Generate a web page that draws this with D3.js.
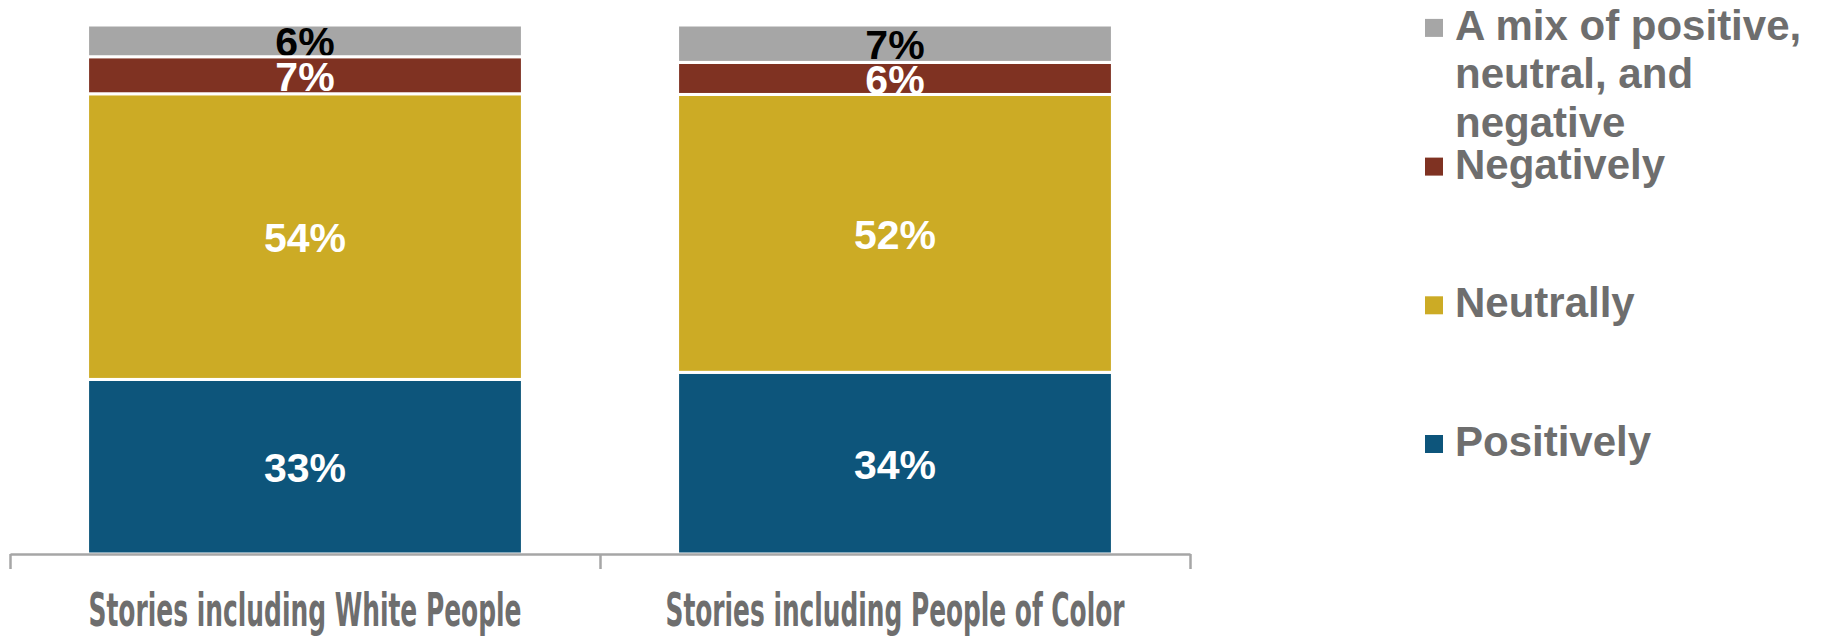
<!DOCTYPE html>
<html>
<head>
<meta charset="utf-8">
<script src="https://cdn.jsdelivr.net/npm/d3@7"></script>
<style>
  body { margin: 0; background: #fff; }
  .axis path, .axis line { stroke: #a6a6a6; stroke-width: 2.5; }
</style>
</head>
<body>
<svg class="chart" width="1824" height="636"></svg>
<script>

var categories = ["Stories including White People", "Stories including People of Color"];
var seriesKeys = ["positive", "neutral", "negative", "mix"];
var seriesLabels = [["Positively"], ["Neutrally"], ["Negatively"], ["A mix of positive,", "neutral, and", "negative"]];
var positive = [33, 34];
var neutral = [54, 52];
var negative = [7, 6];
var mix = [6, 7];
var colors = ["#0d557b", "#ccab25", "#7f3222", "#a6a6a6"];
var labelColors = ["#fff", "#fff", "#fff", "#000"];

var svg = d3.select("svg.chart");

var margin = {left: 10, right: 1190, top: 25, bottom: 554};

var data = categories.map(function(c, i) {
  return {cat: c, positive: positive[i], neutral: neutral[i], negative: negative[i], mix: mix[i]};
});

// 100% stacked, each bar scaled to its own total
var stack = d3.stack().keys(seriesKeys).offset(d3.stackOffsetExpand);
var series = stack(data);

var x = d3.scaleBand()
    .domain(categories)
    .range([margin.left, margin.right])
    .paddingInner(0.263)
    .paddingOuter(0.1315);

var xEdge = d3.scaleLinear().domain([0, categories.length]).range([margin.left, margin.right]);

var y = d3.scaleLinear().domain([0, 1]).range([margin.bottom, margin.top]);

var layer = svg.selectAll(".layer")
  .data(series)
  .enter().append("g")
    .attr("class", "layer")
    .attr("fill", function(d, i) { return colors[i]; });

layer.selectAll("rect")
  .data(function(d) { return d; })
  .enter().append("rect")
    .attr("x", function(d) { return x(d.data.cat); })
    .attr("y", function(d) { return y(d[1]); })
    .attr("width", x.bandwidth())
    .attr("height", function(d) { return y(d[0]) - y(d[1]); })
    .attr("stroke", "#fff")
    .attr("stroke-width", 3);

// clip each value label to its own segment
var defs = svg.append("defs");
series.forEach(function(s, si) {
  s.forEach(function(d, ci) {
    defs.append("clipPath")
      .attr("id", "clip-" + si + "-" + ci)
      .append("rect")
        .attr("x", x(d.data.cat))
        .attr("y", y(d[1]) + 1.5)
        .attr("width", x.bandwidth())
        .attr("height", Math.max(0, y(d[0]) - y(d[1]) - 3));
  });
});

// value labels
series.forEach(function(s, si) {
  svg.append("g").selectAll("text")
    .data(s)
    .enter().append("text")
      .attr("clip-path", function(d, ci) { return "url(#clip-" + si + "-" + ci + ")"; })
      .attr("x", function(d) { return x(d.data.cat) + x.bandwidth() / 2; })
      .attr("y", function(d) { return (y(d[0]) + y(d[1])) / 2; })
      .attr("dy", "0.38em")
      .attr("text-anchor", "middle")
      .style("font", "bold 41px 'Liberation Sans', Arial, sans-serif")
      .style("fill", labelColors[si])
      .text(function(d) { return d.data[s.key] + "%"; });
});

// axis with ticks at category boundaries
svg.append("g")
  .attr("class", "axis")
  .attr("transform", "translate(0," + margin.bottom + ")")
  .call(d3.axisBottom(xEdge).tickValues(d3.range(categories.length + 1)).tickSizeInner(15).tickSizeOuter(0).tickFormat(""));

svg.append("g").selectAll("text")
  .data(categories)
  .enter().append("text")
    .attr("x", function(d) { return x(d) + x.bandwidth() / 2; })
    .attr("y", 626)
    .attr("text-anchor", "middle")
    .attr("textLength", function(d, i) { return i === 0 ? 433 : 459; })
    .attr("lengthAdjust", "spacingAndGlyphs")
    .style("font", "bold 46px 'Liberation Sans Narrow', 'DejaVu Sans Condensed', sans-serif")
    .style("fill", "#6e6e6e")
    .text(function(d) { return d; });

// legend
var legend = svg.append("g").selectAll(".legend")
  .data(seriesLabels)
  .enter().append("g")
    .attr("class", "legend")
    .attr("transform", function(d, i) { return "translate(1425," + (444 - i * 138.7) + ")"; });

legend.append("rect")
  .attr("x", 0)
  .attr("y", -9)
  .attr("width", 18)
  .attr("height", 18)
  .attr("fill", function(d, i) { return colors[i]; });

legend.append("text")
  .style("font", "bold 42px 'Liberation Sans', Arial, sans-serif")
  .style("fill", "#6e6e6e")
  .selectAll("tspan")
  .data(function(d) { return d; })
  .enter().append("tspan")
    .attr("x", 30)
    .attr("y", function(d, j) { return 12 + j * 48.5; })
    .text(function(d) { return d; });

</script>
</body>
</html>
